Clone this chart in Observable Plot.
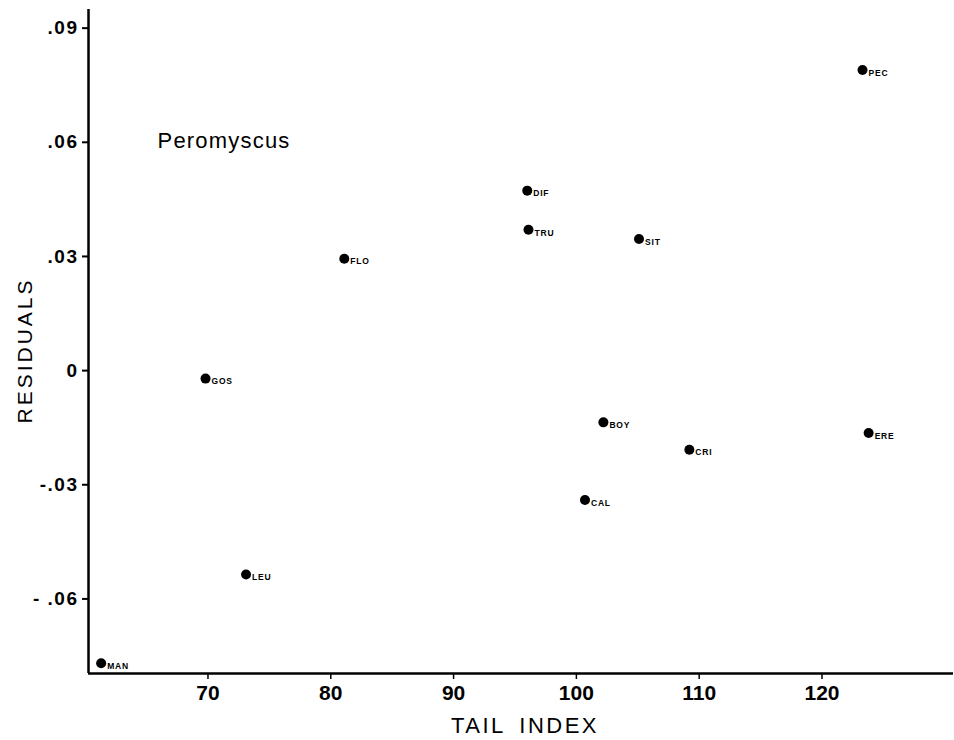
<!DOCTYPE html>
<html><head><meta charset="utf-8">
<script src="https://cdn.jsdelivr.net/npm/d3@7"></script>
<script src="https://cdn.jsdelivr.net/npm/@observablehq/plot@0.6"></script>
<style>
body{margin:0;background:#fff}
</style></head><body><div id="chart"></div>
<script>
const species = ["PEC","DIF","TRU","SIT","FLO","GOS","BOY","ERE","CRI","CAL","LEU","MAN"];
const tailIndex = [123.3, 96.0, 96.1, 105.1, 81.1, 69.8, 102.2, 123.8, 109.2, 100.7, 73.1, 61.3];
const residuals = [0.0790, 0.0473, 0.0370, 0.0346, 0.0294, -0.0021, -0.0136, -0.0164, -0.0208, -0.0340, -0.0536, -0.0769];
const xTicks = [70, 80, 90, 100, 110, 120];
const xTickLabels = ["70", "80", "90", "100", "110", "120"];
const yTicks = [0.09, 0.06, 0.03, 0, -0.03, -0.06];
const yTickLabels = [".09", ".06", ".03", "0", "-.03", "- .06"];
const xDomain = [60.27, 130.71];
const yDomain = [-0.0796, 0.0949];
const genusLabel = ["Peromyscus"];
const genusPos = [{x: 65.89, y: 0.0603}];
const yTitle = "RESIDUALS";
const xTitle = "TAIL\u2002INDEX";

const data = species.map((s, i) => ({name: s, x: tailIndex[i], y: residuals[i]}));
const genus = genusLabel.map((t, i) => ({text: t, x: genusPos[i].x, y: genusPos[i].y}));

const chart = Plot.plot({
  width: 954, height: 740,
  marginLeft: 88, marginRight: 1, marginTop: 9, marginBottom: 67,
  x: {domain: xDomain},
  y: {domain: yDomain},
  style: {fontFamily: "'Liberation Sans', Arial, sans-serif", background: "#fff", color: "#000"},
  marks: [
    Plot.axisY({ticks: yTicks, tickFormat: d => yTickLabels[yTicks.indexOf(d)], tickSize: 6, tickPadding: 4, fontSize: 19, fontWeight: "bold", label: null, strokeWidth: 2}),
    Plot.axisX({ticks: xTicks, tickFormat: d => xTickLabels[xTicks.indexOf(d)], tickSize: 6, tickPadding: 6, fontSize: 21, fontWeight: "bold", label: null, strokeWidth: 1.5}),
    Plot.ruleX([xDomain[0]], {strokeWidth: 2.5}),
    Plot.ruleY([yDomain[0]], {strokeWidth: 2.5}),
    Plot.dot(data, {x: "x", y: "y", r: 5, fill: "#000", stroke: null}),
    Plot.text(data, {x: "x", y: "y", text: "name", textAnchor: "start", lineAnchor: "middle", dx: 6, dy: 3, fontSize: 8.5, fontWeight: "bold"}),
    Plot.text(genus, {x: "x", y: "y", text: "text", textAnchor: "start", lineAnchor: "middle", fontSize: 22}),
    Plot.text([yTitle], {frameAnchor: "left", textAnchor: "middle", lineAnchor: "middle", rotate: -90, dx: -63, dy: 9, fontSize: 21}),
    Plot.text([xTitle], {frameAnchor: "bottom", textAnchor: "middle", lineAnchor: "middle", dy: 52, dx: 4, fontSize: 22})
  ]
});
d3.select(chart).selectAll("text").each(function() {
  const t = this.textContent;
  if (t === yTitle) this.style.letterSpacing = "3px";
  else if (t === xTitle) this.style.letterSpacing = "2.5px";
  else if (genusLabel.includes(t)) this.style.letterSpacing = "1.2px";
  else if (species.includes(t)) this.style.letterSpacing = "0.8px";
  else if (yTickLabels.includes(t)) { this.style.letterSpacing = "1.5px"; this.style.fontSize = "19px"; this.style.fontWeight = "bold"; }
  else if (xTickLabels.includes(t)) { this.style.fontSize = "21px"; this.style.fontWeight = "bold"; }
});
document.getElementById("chart").appendChild(chart);
</script></body></html>
